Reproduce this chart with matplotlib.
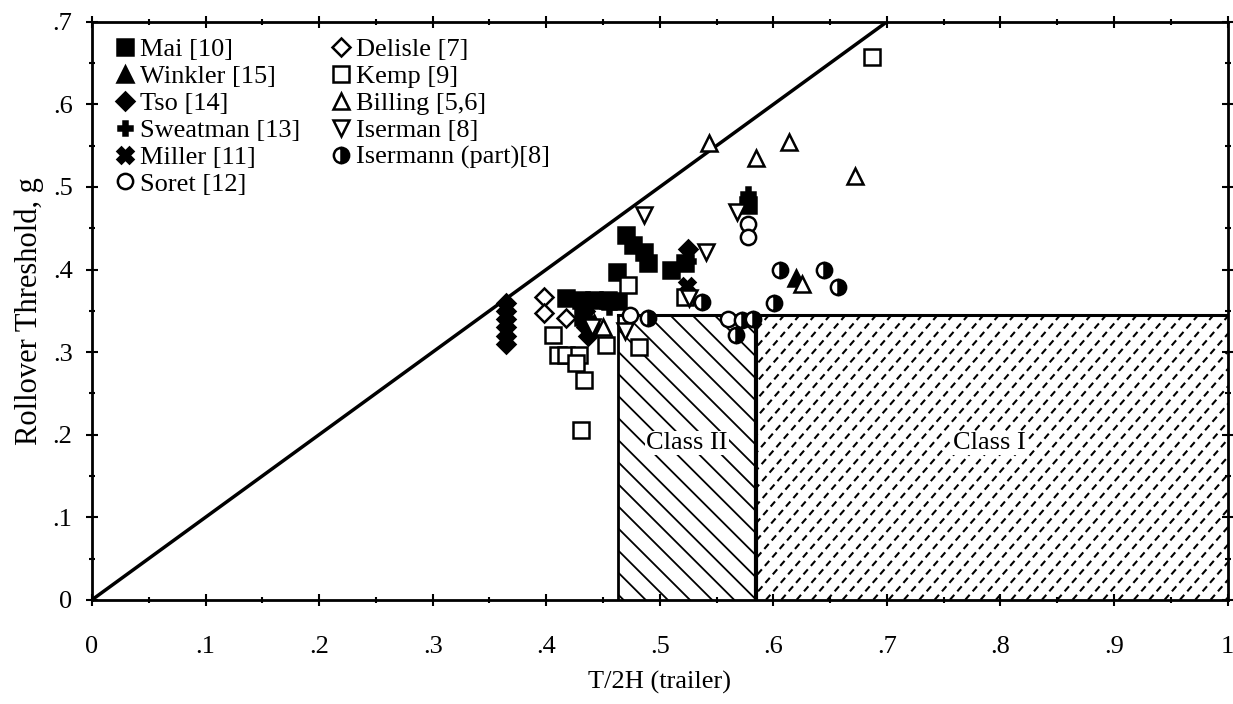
import numpy as np
import matplotlib
matplotlib.use("Agg")
import matplotlib.pyplot as plt
from matplotlib.patches import Rectangle
from matplotlib.ticker import MultipleLocator, FuncFormatter

plt.rcParams["font.family"] = ["Liberation Serif", "DejaVu Serif"]

# data: (T/2H, rollover threshold g)
mai_x = [0.470, 0.476, 0.486, 0.490, 0.462, 0.417, 0.431, 0.442, 0.454, 0.463, 0.432, 0.510, 0.522, 0.578]
mai_y = [0.442, 0.430, 0.421, 0.408, 0.397, 0.366, 0.363, 0.363, 0.363, 0.362, 0.343, 0.400, 0.408, 0.478]
winkler_x = [0.442, 0.620]
winkler_y = [0.335, 0.390]
tso_x = [0.365, 0.365, 0.365, 0.365, 0.365, 0.365, 0.435, 0.437, 0.525]
tso_y = [0.360, 0.350, 0.340, 0.330, 0.320, 0.310, 0.330, 0.320, 0.425]
sweatman_x = [0.578, 0.525, 0.455]
sweatman_y = [0.492, 0.410, 0.355]
miller_x = [0.365, 0.435, 0.524]
miller_y = [0.345, 0.345, 0.380]
soret_x = [0.578, 0.578, 0.560, 0.474]
soret_y = [0.455, 0.440, 0.340, 0.345]
delisle_x = [0.398, 0.398, 0.417]
delisle_y = [0.367, 0.347, 0.341]
kemp_x = [0.406, 0.410, 0.417, 0.429, 0.426, 0.433, 0.431, 0.453, 0.482, 0.472, 0.522, 0.687]
kemp_y = [0.321, 0.297, 0.297, 0.297, 0.287, 0.266, 0.206, 0.309, 0.306, 0.381, 0.367, 0.657]
billing_x = [0.543, 0.585, 0.614, 0.672, 0.625, 0.450]
billing_y = [0.553, 0.535, 0.554, 0.513, 0.383, 0.330]
iserman_x = [0.486, 0.541, 0.568, 0.469, 0.526, 0.440]
iserman_y = [0.466, 0.421, 0.470, 0.325, 0.366, 0.330]
isermann_part_x = [0.606, 0.645, 0.657, 0.601, 0.537, 0.572, 0.567, 0.490, 0.582]
isermann_part_y = [0.400, 0.400, 0.379, 0.360, 0.361, 0.339, 0.321, 0.341, 0.340]

class_edges = [0.463, 0.585, 1.0]
class_top = 0.345
class_names = ["Class II", "Class I"]

fig = plt.figure(figsize=(12.33, 7.04), dpi=100)
ax = fig.add_axes([0.0746, 0.148, 0.921, 0.821])
ax.set_xlim(0, 1)
ax.set_ylim(0, 0.7)

# y = x boundary
ax.plot([0, 0.7], [0, 0.7], color="black", lw=2.5, zorder=3)

# class regions, hatched by hand so Class I can use dashed lines
rect2 = Rectangle((class_edges[0], 0), class_edges[1] - class_edges[0], class_top,
                  fill=False, lw=0)
rect1 = Rectangle((class_edges[1], 0), class_edges[2] - class_edges[1], class_top,
                  fill=False, lw=0)
ax.add_patch(rect2)
ax.add_patch(rect1)
k = 1133 / 826  # slope giving 45 degrees on screen
for off in np.arange(-0.5, 1.2, 0.0195):
    ln, = ax.plot([off, off + 0.5], [0.5 * k, 0], color="black", lw=1.3, zorder=1)
    ln.set_clip_path(rect2)
for off in np.arange(-0.5, 1.2, 0.0135):
    ln, = ax.plot([off, off + 0.4], [0, 0.4 * k * 1.15], color="black", lw=1.5,
                  ls=(0, (3.2, 2.2)), zorder=1)
    ln.set_clip_path(rect1)
ax.plot([class_edges[0], class_edges[0]], [0, class_top], color="black", lw=2, zorder=2)
ax.plot([class_edges[1], class_edges[1]], [0, class_top], color="black", lw=3, zorder=2)
ax.plot([class_edges[0], class_edges[2]], [class_top, class_top], color="black", lw=2.2, zorder=2)
ax.text((class_edges[0] + class_edges[1]) / 2, 0.19, class_names[0], ha="center", va="center",
        fontsize=19, bbox=dict(facecolor="white", edgecolor="none", pad=1), zorder=2)
ax.text(0.79, 0.19, class_names[1], ha="center", va="center", fontsize=19,
        bbox=dict(facecolor="white", edgecolor="none", pad=1), zorder=2)

mk = dict(linestyle="none", color="black", markersize=11, markeredgewidth=1.8, zorder=4)
ax.plot(mai_x, mai_y, marker="s", label="Mai [10]", **mk)
ax.plot(winkler_x, winkler_y, marker="^", label="Winkler [15]", **mk)
ax.plot(tso_x, tso_y, marker="D", label="Tso [14]", **{**mk, "markersize": 9})
ax.plot(sweatman_x, sweatman_y, marker="P", label="Sweatman [13]", **{**mk, "markersize": 10})
ax.plot(miller_x, miller_y, marker="X", label="Miller [11]", **mk)
ax.plot(soret_x, soret_y, marker="o", mfc="white", label="Soret [12]", **mk)
ax.plot(delisle_x, delisle_y, marker="D", mfc="white", label="Delisle [7]", **{**mk, "markersize": 9})
ax.plot(kemp_x, kemp_y, marker="s", mfc="white", label="Kemp [9]", **mk)
ax.plot(billing_x, billing_y, marker="^", mfc="white", label="Billing [5,6]", **mk)
ax.plot(iserman_x, iserman_y, marker="v", mfc="white", label="Iserman [8]", **mk)
ax.plot(isermann_part_x, isermann_part_y, marker="o", fillstyle="right",
        markerfacecoloralt="white", label="Isermann (part)[8]", **mk)

ax.legend(loc="upper left", bbox_to_anchor=(0.005, 1.0), ncol=2, frameon=False,
          fontsize=19, handletextpad=0.1, handlelength=0.9, labelspacing=0.13,
          columnspacing=1.1, borderaxespad=0.3, borderpad=0.3)

fmt = FuncFormatter(lambda v, p: "0" if abs(v) < 1e-9 else ("1" if abs(v - 1) < 1e-9 else f"{v:.1f}".lstrip("0")))
ax.xaxis.set_major_locator(MultipleLocator(0.1))
ax.xaxis.set_minor_locator(MultipleLocator(0.05))
ax.yaxis.set_major_locator(MultipleLocator(0.1))
ax.yaxis.set_minor_locator(MultipleLocator(0.05))
ax.xaxis.set_major_formatter(fmt)
ax.yaxis.set_major_formatter(fmt)
ax.tick_params(which="both", direction="inout", top=True, right=True, width=1.5, labelsize=19)
ax.tick_params(which="major", length=8)
ax.tick_params(which="minor", length=5)
ax.tick_params(axis="x", pad=22)
ax.tick_params(axis="y", pad=10)
for s in ax.spines.values():
    s.set_linewidth(2)

ax.set_xlabel("T/2H (trailer)", fontsize=19, labelpad=9)
ax.set_ylabel("Rollover Threshold, g", fontsize=22, labelpad=6)

fig.savefig("out.png", dpi=100)
